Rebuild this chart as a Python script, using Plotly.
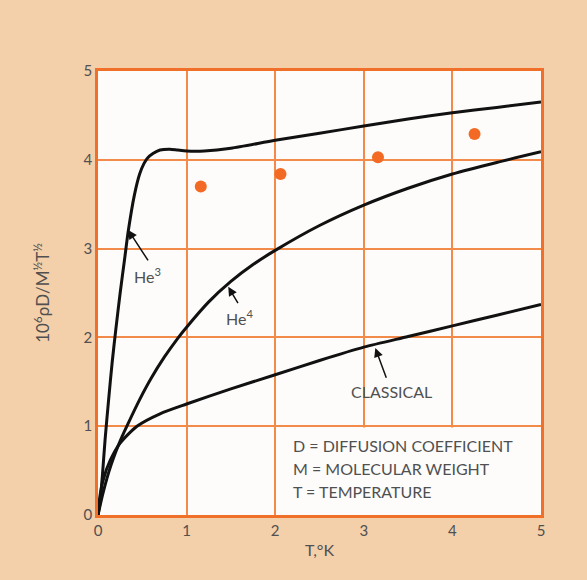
import plotly.graph_objects as go

# He3 curve
he3_x = [0, 0.02, 0.05, 0.08, 0.12, 0.16, 0.20, 0.25, 0.30, 0.342, 0.41, 0.47, 0.52, 0.56, 0.62, 0.70, 0.81, 0.90, 1.0, 1.2, 1.5, 2.0, 2.5, 3.0, 3.5, 4.0, 4.5, 5.0]
he3_y = [0, 0.12, 0.45, 0.85, 1.30, 1.72, 2.08, 2.50, 2.88, 3.20, 3.60, 3.84, 3.96, 4.02, 4.07, 4.11, 4.12, 4.11, 4.10, 4.10, 4.13, 4.22, 4.30, 4.38, 4.46, 4.53, 4.59, 4.65]

# He4 curve
he4_x = [0, 0.05, 0.10, 0.15, 0.20, 0.27, 0.33, 0.47, 0.60, 0.75, 0.90, 1.0, 1.25, 1.5, 1.75, 2.0, 2.5, 3.0, 3.5, 4.0, 4.5, 5.0]
he4_y = [0, 0.22, 0.41, 0.57, 0.71, 0.88, 1.01, 1.30, 1.54, 1.78, 1.99, 2.115, 2.40, 2.63, 2.82, 2.98, 3.26, 3.49, 3.68, 3.84, 3.97, 4.09]

# Classical curve
cl_x = [0, 0.02, 0.06, 0.14, 0.25, 0.44, 0.70, 1.0, 1.5, 2.0, 2.5, 3.0, 3.5, 4.0, 4.5, 5.0]
cl_y = [0, 0.20, 0.40, 0.62, 0.81, 1.00, 1.14, 1.25, 1.42, 1.58, 1.74, 1.89, 2.01, 2.13, 2.25, 2.37]

# Measured points
pt_x = [1.16, 2.06, 3.16, 4.25]
pt_y = [3.70, 3.84, 4.03, 4.29]

x_ticks = [0, 1, 2, 3, 4, 5]
y_ticks = [0, 1, 2, 3, 4, 5]

legend_lines = ["D = DIFFUSION COEFFICIENT", "M = MOLECULAR WEIGHT", "T = TEMPERATURE"]

FONT = "Lato"
TXT = "#505050"
GRID = "#f28a4a"
BORDER = "#f0702a"

fig = go.Figure()
for xs, ys in [(he3_x, he3_y), (he4_x, he4_y), (cl_x, cl_y)]:
    fig.add_trace(go.Scatter(x=xs, y=ys, mode="lines",
                             line=dict(color="#111111", width=3, shape="spline", smoothing=0.7),
                             hoverinfo="skip", showlegend=False))
fig.add_trace(go.Scatter(x=pt_x, y=pt_y, mode="markers",
                         marker=dict(color="#f26a24", size=12, line=dict(width=0)),
                         showlegend=False))

# white box behind definitions
fig.add_shape(type="rect", xref="x", yref="y", x0=2.08, x1=5, y0=0, y1=0.985,
              fillcolor="#fdfcfb", line=dict(width=0), layer="between")

anns = []
# arrows (head, tail)
arrows = [((0.34, 3.21), (0.576, 2.85)), ((1.47, 2.57), (1.59, 2.37)), ((3.13, 1.88), (3.26, 1.53))]
for (hx, hy), (tx, ty) in arrows:
    anns.append(dict(x=hx, y=hy, ax=tx, ay=ty, xref="x", yref="y", axref="x", ayref="y",
                     text="", showarrow=True, arrowhead=2, arrowsize=1.2, arrowwidth=1.5,
                     arrowcolor="#111111"))
labels = [(0.56, 2.70, "He<sup>3</sup>"), (1.60, 2.22, "He<sup>4</sup>"), (3.31, 1.39, "CLASSICAL")]
for lx, ly, t in labels:
    anns.append(dict(x=lx, y=ly, xref="x", yref="y", text=t, showarrow=False,
                     font=dict(family=FONT, size=16, color=TXT)))
for i, t in enumerate(legend_lines):
    anns.append(dict(x=2.18, y=0.78 - i * 0.26, xref="x", yref="y", text=t, showarrow=False,
                     xanchor="left", font=dict(family=FONT, size=16, color=TXT)))

fig.update_layout(
    width=587, height=580,
    margin=dict(l=98, r=46, t=71, b=65),
    paper_bgcolor="#f3cfaa",
    plot_bgcolor="#fdfcfb",
    font=dict(family=FONT, size=15, color=TXT),
    annotations=anns,
    showlegend=False,
)
fig.update_xaxes(range=[0, 5], tickvals=x_ticks, ticktext=[str(v) for v in x_ticks],
                 showgrid=True, gridcolor=GRID, gridwidth=1.5, zeroline=False,
                 showline=True, linecolor=BORDER, linewidth=2.5, mirror=True,
                 ticks="", tickfont=dict(family=FONT, size=15, color=TXT),
                 title=dict(text="T,°K", font=dict(family=FONT, size=16, color=TXT), standoff=8))
fig.update_yaxes(range=[0, 5], tickvals=y_ticks, ticktext=[str(v) for v in y_ticks],
                 showgrid=True, gridcolor=GRID, gridwidth=1.5, zeroline=False,
                 showline=True, linecolor=BORDER, linewidth=2.5, mirror=True,
                 ticks="", tickfont=dict(family=FONT, size=15, color=TXT),
                 title=dict(text="10<sup>6</sup>ρD/M<sup>½</sup>T<sup>½</sup>",
                            font=dict(family=FONT, size=17, color=TXT), standoff=30))

fig.write_html("out.html")
